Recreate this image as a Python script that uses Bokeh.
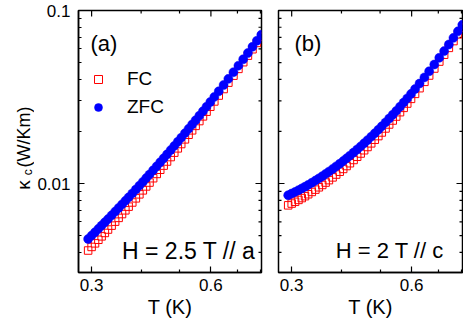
import math
from bokeh.plotting import figure
from bokeh.layouts import row
from bokeh.models import (FixedTicker, Label, Legend, LegendItem,
                          Range1d, CustomJSTickFormatter)
from bokeh.embed import file_html
from bokeh.resources import INLINE

# ---------------- data ----------------
temperature = [0.294, 0.300, 0.306, 0.312, 0.318, 0.324, 0.330, 0.337, 0.344, 0.351,
               0.358, 0.365, 0.372, 0.380, 0.388, 0.396, 0.404, 0.412, 0.420, 0.429,
               0.438, 0.447, 0.456, 0.465, 0.475, 0.485, 0.495, 0.505, 0.516, 0.527,
               0.538, 0.549, 0.561, 0.573, 0.585, 0.598, 0.612, 0.628, 0.646, 0.664,
               0.684, 0.704, 0.724, 0.744, 0.764, 0.784, 0.804]

kappa_fc_a = [0.00410, 0.00430, 0.00451, 0.00473, 0.00495, 0.00518, 0.00542, 0.00571,
              0.00602, 0.00633, 0.00666, 0.00700, 0.00735, 0.00777, 0.00821, 0.00866,
              0.00913, 0.00962, 0.01013, 0.01073, 0.01136, 0.01201, 0.01269, 0.01340,
              0.01422, 0.01508, 0.01597, 0.01691, 0.01800, 0.01913, 0.02030, 0.02154,
              0.02296, 0.02444, 0.02601, 0.02779, 0.02981, 0.03224, 0.03517, 0.03828,
              0.04200, 0.04598, 0.05026, 0.05483, 0.05972, 0.06495, 0.07051]

kappa_zfc_a = [0.00478, 0.00500, 0.00523, 0.00547, 0.00572, 0.00597, 0.00623, 0.00655,
               0.00688, 0.00722, 0.00757, 0.00794, 0.00832, 0.00877, 0.00924, 0.00972,
               0.01022, 0.01075, 0.01129, 0.01193, 0.01259, 0.01328, 0.01399, 0.01474,
               0.01560, 0.01650, 0.01743, 0.01841, 0.01954, 0.02071, 0.02193, 0.02321,
               0.02467, 0.02619, 0.02780, 0.02961, 0.03167, 0.03414, 0.03711, 0.04026,
               0.04400, 0.04800, 0.05228, 0.05684, 0.06170, 0.06688, 0.07238]

kappa_fc_b = [0.00748, 0.00766, 0.00784, 0.00804, 0.00824, 0.00845, 0.00867, 0.00894,
              0.00922, 0.00951, 0.00981, 0.01013, 0.01046, 0.01085, 0.01127, 0.01170,
              0.01214, 0.01262, 0.01310, 0.01368, 0.01428, 0.01491, 0.01557, 0.01626,
              0.01707, 0.01791, 0.01880, 0.01973, 0.02081, 0.02194, 0.02313, 0.02439,
              0.02584, 0.02737, 0.02899, 0.03085, 0.03297, 0.03556, 0.03870, 0.04209,
              0.04620, 0.05067, 0.05552, 0.06081, 0.06656, 0.07279, 0.07954]

kappa_zfc_b = [0.00856, 0.00875, 0.00894, 0.00915, 0.00936, 0.00958, 0.00982, 0.01010,
               0.01040, 0.01070, 0.01102, 0.01136, 0.01171, 0.01212, 0.01256, 0.01301,
               0.01348, 0.01398, 0.01449, 0.01510, 0.01573, 0.01639, 0.01708, 0.01781,
               0.01865, 0.01953, 0.02046, 0.02143, 0.02256, 0.02374, 0.02498, 0.02629,
               0.02779, 0.02938, 0.03105, 0.03297, 0.03516, 0.03783, 0.04106, 0.04454,
               0.04874, 0.05331, 0.05826, 0.06364, 0.06947, 0.07578, 0.08261]

x_major_ticks = [0.3, 0.6]
x_minor_ticks = [0.4, 0.5, 0.7, 0.8]
y_major_ticks = [0.01, 0.1]
y_minor_ticks = [0.003, 0.004, 0.005, 0.006, 0.007, 0.008, 0.009,
                 0.02, 0.03, 0.04, 0.05, 0.06, 0.07, 0.08, 0.09]
x_range = (0.278, 0.805)
y_range = (0.00306, 0.1)

FONT = "Liberation Sans"
RED = "#ff0000"
BLUE = "#0000ff"
HEIGHT = 324
TOP = 10
BOTTOM = 52

fmt = CustomJSTickFormatter(code="return tick.toString();")


def style_axis(ax, ticks, minor, standoff):
    ax.ticker = FixedTicker(ticks=ticks, minor_ticks=minor)
    ax.formatter = fmt
    ax.axis_line_color = "black"
    ax.axis_line_width = 1.5
    ax.major_tick_in = 6
    ax.major_tick_out = 0
    ax.minor_tick_in = 3
    ax.minor_tick_out = 0
    ax.major_tick_line_width = 1.2
    ax.minor_tick_line_width = 1.2
    ax.major_tick_line_color = "black"
    ax.minor_tick_line_color = "black"
    ax.major_label_text_font = FONT
    ax.major_label_text_color = "black"
    ax.major_label_text_font_size = "17px"
    ax.major_label_standoff = standoff
    ax.axis_label_text_font = FONT
    ax.axis_label_text_font_style = "normal"
    ax.axis_label_text_color = "black"
    ax.axis_label_text_font_size = "20px"


def mirror_ticks(p, left_side):
    # tick marks on the frame sides that carry no labels
    sides_x = [x_range[1]] + ([x_range[0]] if left_side else [])
    for xs in sides_x:
        p.scatter([xs] * len(y_major_ticks), y_major_ticks, marker="dash", size=12,
                  line_color="black", line_width=1.2)
        p.scatter([xs] * len(y_minor_ticks), y_minor_ticks, marker="dash", size=6,
                  line_color="black", line_width=1.2)
    p.scatter(x_major_ticks, [y_range[1]] * len(x_major_ticks), marker="dash",
              angle=math.pi / 2, size=12, line_color="black", line_width=1.2)
    p.scatter(x_minor_ticks, [y_range[1]] * len(x_minor_ticks), marker="dash",
              angle=math.pi / 2, size=6, line_color="black", line_width=1.2)


def make_panel(width, left, right, show_y):
    p = figure(width=width, height=HEIGHT, x_axis_type="log", y_axis_type="log",
               x_range=Range1d(*x_range), y_range=Range1d(*y_range),
               output_backend="svg", toolbar_location=None,
               min_border_left=left, min_border_right=right,
               min_border_top=TOP, min_border_bottom=BOTTOM)
    p.xgrid.visible = False
    p.ygrid.visible = False
    p.outline_line_color = "black"
    p.outline_line_width = 1.5
    p.background_fill_color = "white"
    p.border_fill_color = "white"

    style_axis(p.xaxis[0], x_major_ticks, x_minor_ticks, 6)
    p.xaxis[0].axis_label = "T (K)"
    p.xaxis[0].axis_label_standoff = 2
    style_axis(p.yaxis[0], y_major_ticks, y_minor_ticks, 8)
    p.yaxis[0].axis_label = None
    if not show_y:
        p.yaxis[0].visible = False
    mirror_ticks(p, not show_y)
    return p


# ---------------- y-axis title strip (kappa with subscript c) ----------------
LABEL_W = 34
pl = figure(width=LABEL_W, height=HEIGHT, y_axis_type="log",
            x_range=Range1d(0, LABEL_W), y_range=Range1d(*y_range),
            x_axis_location=None, y_axis_location=None,
            output_backend="svg", toolbar_location=None,
            min_border_left=0, min_border_right=0,
            min_border_top=TOP, min_border_bottom=BOTTOM)
pl.grid.visible = False
pl.outline_line_color = None
pl.background_fill_color = "white"
pl.border_fill_color = "white"
ang = math.pi / 2
pl.add_layout(Label(x=23, y=0.0098, text="κ", angle=ang, text_font=FONT,
                    text_font_size="19px", text_align="center",
                    text_baseline="middle", text_color="black"))
pl.add_layout(Label(x=27, y=0.0116, text="c", angle=ang, text_font=FONT,
                    text_font_size="12px", text_align="center",
                    text_baseline="middle", text_color="black"))
pl.add_layout(Label(x=23, y=0.0186, text="(W/Km)", angle=ang, text_font=FONT,
                    text_font_size="18px", text_align="center",
                    text_baseline="middle", text_color="black"))

# ---------------- panel (a) ----------------
pa = make_panel(235, 42, 8, True)
r_fc = pa.scatter(temperature, kappa_fc_a, marker="square", size=7.5,
                  fill_color=None, line_color=RED, line_width=1)
r_zfc = pa.scatter(temperature, kappa_zfc_a, marker="circle", size=9,
                   fill_color=BLUE, line_color=BLUE, line_width=0.5)

legend = Legend(items=[LegendItem(label="FC", renderers=[r_fc]),
                       LegendItem(label="ZFC", renderers=[r_zfc])],
                location=(10, 154), padding=0, margin=0, spacing=6,
                glyph_width=20, glyph_height=22, label_height=22,
                label_standoff=19, label_text_font=FONT,
                label_text_font_size="19px", label_text_color="black",
                border_line_color=None, background_fill_alpha=0)
pa.add_layout(legend)

pa.add_layout(Label(x=0.298, y=0.0644, text="(a)", text_font=FONT,
                    text_font_size="22px", text_align="left",
                    text_baseline="middle", text_color="black"))
pa.add_layout(Label(x=0.358, y=0.0041, text="H = 2.5 T // a", text_font=FONT,
                    text_font_size="23px", text_align="left",
                    text_baseline="middle", text_color="black"))

# ---------------- panel (b) ----------------
pb = make_panel(194, 9, 1, False)
pb.scatter(temperature, kappa_fc_b, marker="square", size=7.5,
           fill_color=None, line_color=RED, line_width=1)
pb.scatter(temperature, kappa_zfc_b, marker="circle", size=9,
           fill_color=BLUE, line_color=BLUE, line_width=0.5)
pb.add_layout(Label(x=0.305, y=0.0644, text="(b)", text_font=FONT,
                    text_font_size="22px", text_align="left",
                    text_baseline="middle", text_color="black"))
pb.add_layout(Label(x=0.387, y=0.0041, text="H = 2 T // c", text_font=FONT,
                    text_font_size="22px", text_align="left",
                    text_baseline="middle", text_color="black"))

layout = row(pl, pa, pb)
open("out.html", "w").write(file_html(layout, INLINE))
